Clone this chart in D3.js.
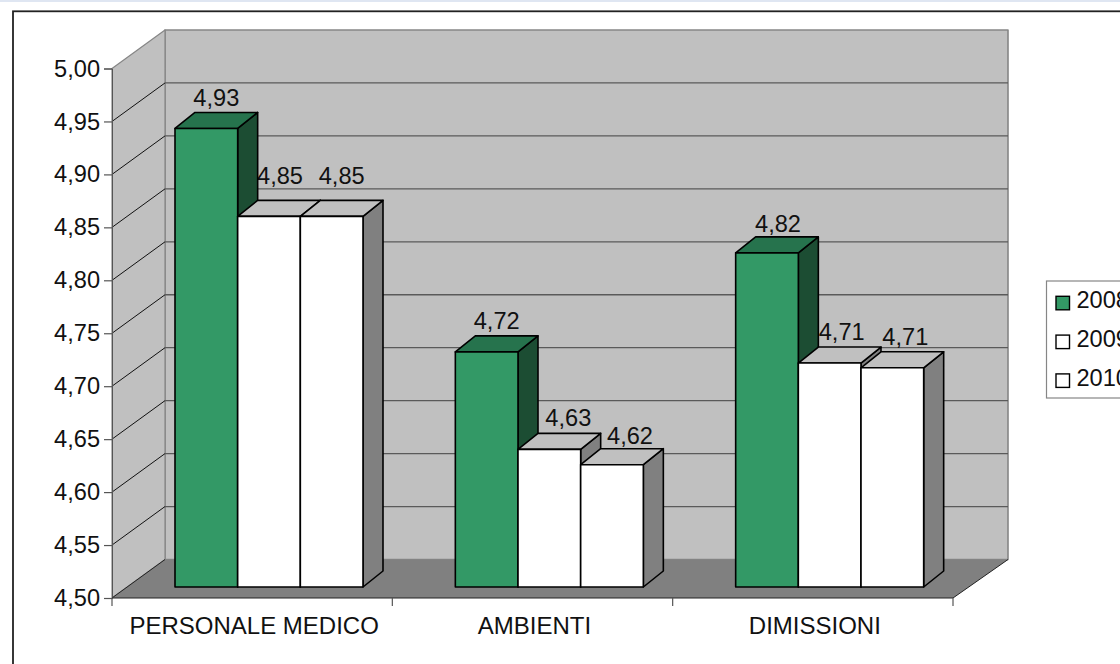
<!DOCTYPE html>
<html><head><meta charset="utf-8">
<style>html,body{margin:0;padding:0;background:#fff;overflow:hidden}svg{display:block}text{font-family:"Liberation Sans",Arial,sans-serif;fill:#111}</style>
<script src="https://cdn.jsdelivr.net/npm/d3@7"></script>
</head><body><svg width="1120" height="664"></svg>
<script>
const categories = ["PERSONALE MEDICO", "AMBIENTI", "DIMISSIONI"];
const years = ["2008", "2009", "2010"];
const values2008 = [4.933, 4.722, 4.8155];
const values2009 = [4.85, 4.63, 4.7115];
const values2010 = [4.85, 4.6155, 4.707];
const yTicks = [4.5, 4.55, 4.6, 4.65, 4.7, 4.75, 4.8, 4.85, 4.9, 4.95, 5.0];
const colors = ["#339966", "#ffffff", "#ffffff"];
const series = [values2008, values2009, values2010];

const svg = d3.select("svg");
const fmt = v => d3.format(".2f")(v).replace(".", ",");
const FS = 23.6;
svg.append("rect").attr("width",1120).attr("height",2).attr("fill","#dfe6f2");
svg.append("rect").attr("x",13).attr("y",11.3).attr("width",1120).attr("height",680).attr("fill","#fff").attr("stroke","#222").attr("stroke-width",1.8);

const x = d3.scaleBand().domain(categories).range([112,953]);
const y = d3.scaleLinear().domain([4.5,5]).range([598,68.5]);
const dxL = 53, dxR = 55, dy = -38.5;   // wall depth
const by = -11;                          // bar inset
const bdx = 20, bdy = -16;               // bar depth
const inner = d3.scaleBand().domain(years).range([63,251]);

const poly = (pts,fill,stroke,sw) => svg.append("path").attr("d",d3.line()(pts)+"Z").attr("fill",fill).attr("stroke",stroke||"none").attr("stroke-width",sw||0).attr("stroke-linejoin","round");
const [x0,x1] = x.range();
const y0 = y(4.5), yt = y(5);
// back wall, side wall, floor
poly([[x0+dxL,yt+dy],[x1+dxR,yt+dy],[x1+dxR,y0+dy],[x0+dxL,y0+dy]],"#c0c0c0","#868686",1.6);
poly([[x0,yt],[x0+dxL,yt+dy],[x0+dxL,y0+dy],[x0,y0]],"#c0c0c0","#868686",1.2);
poly([[x0,y0],[x0+dxL,y0+dy],[x1+dxR,y0+dy],[x1,y0]],"#808080");
// gridlines
yTicks.filter(t=>t>4.5&&t<5).forEach(t=>{
  svg.append("line").attr("x1",x0+dxL).attr("x2",x1+dxR).attr("y1",y(t)+dy).attr("y2",y(t)+dy).attr("stroke","#5a5a5a").attr("stroke-width",1.3);
  svg.append("line").attr("x1",x0).attr("x2",x0+dxL).attr("y1",y(t)).attr("y2",y(t)+dy).attr("stroke","#111").attr("stroke-width",1);
});
svg.append("line").attr("x1",x1).attr("x2",x1+dxR).attr("y1",y0).attr("y2",y0+dy).attr("stroke","#222").attr("stroke-width",1);
svg.append("line").attr("x1",x0).attr("x2",x0+dxL).attr("y1",y0).attr("y2",y0+dy).attr("stroke","#222").attr("stroke-width",1);

// axes
const axisL = svg.append("g").attr("transform",`translate(${x0},0)`).call(d3.axisLeft(y).tickValues(yTicks).tickFormat(fmt).tickSize(8).tickPadding(4));
axisL.select(".domain").attr("stroke","#555").attr("stroke-width",1);
axisL.selectAll(".tick line").attr("stroke","#555").attr("stroke-width",1.2);
axisL.selectAll("text").attr("font-size",FS).attr("font-family",'"Liberation Sans"').attr("fill","#111");
const axisB = svg.append("g").attr("transform",`translate(0,${y0})`);
axisB.append("line").attr("x1",x0).attr("x2",x1).attr("stroke","#222").attr("stroke-width",1.2);
[...categories.map(c=>x(c)),x1].forEach(p=>axisB.append("line").attr("x1",p).attr("x2",p).attr("y1",0).attr("y2",8).attr("stroke","#555").attr("stroke-width",1.2));
categories.forEach(c=>axisB.append("text").attr("x",x(c)+x.bandwidth()/2+2).attr("y",35.5).attr("text-anchor","middle").attr("font-size",FS+0.4).text(c));

const yBar = v => y(v)+by;
// the reference's value labels are hand-placed: nudge from each bar's top, by series then category
const nudgeX = [[-10,-10,-9],[-9,-1,-8],[-10,-2,-7]];
const nudgeY = [[-6,-7,-5],[-16,-7,-7],[-16,-5,-7]];
categories.forEach((c,ci)=>{
  years.forEach((yr,si)=>{
    const v = series[si][ci];
    const l = x(c)+inner(yr);
    svg.append("text").attr("x",l+inner.bandwidth()/2+bdx+nudgeX[si][ci]).attr("y",yBar(v)+bdy+nudgeY[si][ci]).attr("text-anchor","middle").attr("font-size",FS).text(fmt(v));
  });
});

// bars
const sideFill = ["#1c4d33","#808080","#808080"], topFill = ["#26734d","#c0c0c0","#c0c0c0"];
categories.forEach((c,ci)=>{
  years.forEach((yr,si)=>{
    const v = series[si][ci];
    const l = x(c)+inner(yr), r = l+inner.bandwidth(), t = yBar(v), b = yBar(4.5);
    poly([[r,t],[r+bdx,t+bdy],[r+bdx,b+bdy],[r,b]],sideFill[si],"#000",1.6);
    poly([[l,t],[l+bdx,t+bdy],[r+bdx,t+bdy],[r,t]],topFill[si],"#000",1.6);
    poly([[l,t],[r,t],[r,b],[l,b]],colors[si],"#000",1.6);
  });
});

// legend
const lg = svg.append("g").attr("transform","translate(1046.5,281)");
lg.append("rect").attr("width",120).attr("height",117).attr("fill","#fff").attr("stroke","#868686").attr("stroke-width",1.2);
years.forEach((yr,i)=>{
  lg.append("rect").attr("x",9.5).attr("y",15.3+i*38.8).attr("width",13.5).attr("height",13.5).attr("fill",colors[i]).attr("stroke","#000").attr("stroke-width",1.4);
  lg.append("text").attr("x",30).attr("y",27+i*39).attr("font-size",FS).text(yr);
});
</script></body></html>
